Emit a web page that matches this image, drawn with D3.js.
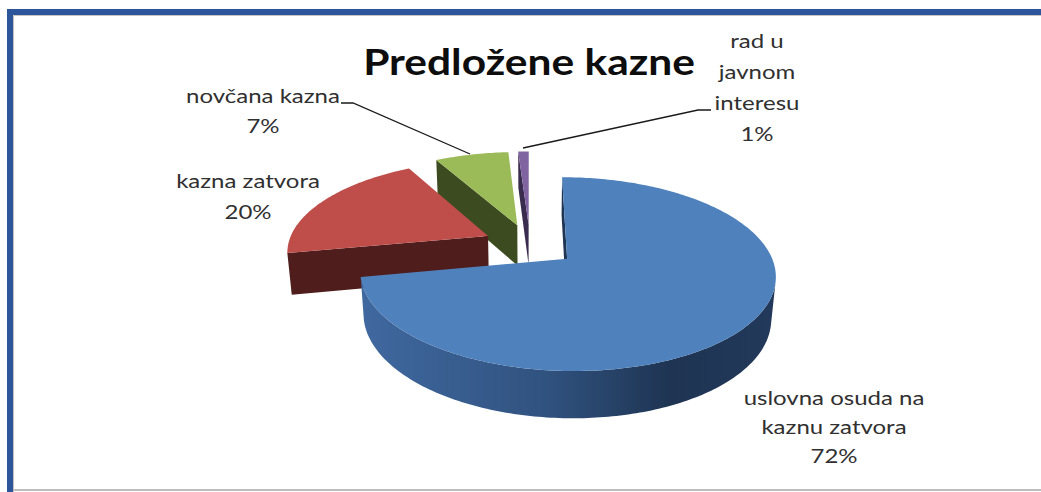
<!DOCTYPE html>
<html>
<head>
<meta charset="utf-8">
<script src="https://cdn.jsdelivr.net/npm/d3@7"></script>
<style>
  html, body { margin: 0; padding: 0; background: #fff; }
  svg { display: block; }
  .lbl { font-family: Lato, "Open Sans", sans-serif; font-size: 20px; fill: #303030; }
  .title { font-family: Lato, "Open Sans", sans-serif; font-size: 36px; font-weight: bold; fill: #0d0d0d; }
</style>
</head>
<body>
<script>
//////////////// Data ////////////////
var categories = ["uslovna osuda na kaznu zatvora", "kazna zatvora", "novčana kazna", "rad u javnom interesu"];
var values = [72, 20, 7, 1];
// label text split in lines, as in the original
var labelLines = [
  ["uslovna osuda na", "kaznu zatvora"],
  ["kazna zatvora"],
  ["novčana kazna"],
  ["rad u", "javnom", "interesu"]
];
var title = "Predložene kazne";

//////////////// Layout ////////////////
var W = 1041, H = 492;
var topColors  = ["#4F81BD", "#BF4E4B", "#9BBB59", "#8064A2"];
var sideColors = ["#1f3554", "#4e1d1c", "#3d4b20", "#3a2c4f"];
var stretch = 1.2; // the source picture is a bit wider than tall

// simple perspective camera for the 3D pie
var cam = {cx: 530, cy: 245, F: 1160, D: 5.79, s: 0.45, c: 0.893};
var R = 1, T = 0.235, explode = 0.235;

function proj(X, Y, Z) {
  var depth = cam.D - Y * cam.s + Z * cam.c;
  var up = Y * cam.c + Z * cam.s;
  return [cam.cx + cam.F * X / depth, cam.cy - cam.F * up / depth];
}

var svg = d3.select("body").append("svg")
  .attr("width", W).attr("height", H);

//////////////// Frame ////////////////
var frame = svg.append("g").attr("class", "frame");
frame.append("path")
  .attr("d", "M10," + H + " V12 H" + W)
  .attr("fill", "none").attr("stroke", "#2d559a").attr("stroke-width", 6);
frame.append("path")
  .attr("d", "M13.5," + H + " V15.5 H" + W)
  .attr("fill", "none").attr("stroke", "#c4c4c4").attr("stroke-width", 1);
frame.append("line")
  .attr("x1", 13).attr("x2", W).attr("y1", 490).attr("y2", 490)
  .attr("stroke", "#bdbdbd").attr("stroke-width", 2);

//////////////// Pie ////////////////
var pie = d3.pie().sort(null).startAngle(0).endAngle(2 * Math.PI);
var arcs = pie(values);

var defs = svg.append("defs");
var line = d3.line();
var step = Math.PI / 180;

arcs.forEach(function(a, i) {
  var mid = (a.startAngle + a.endAngle) / 2;
  a.ox = explode * Math.sin(mid);
  a.oz = explode * Math.cos(mid);
  a.i = i;
});

function rim(a, th, Y) {
  return proj(a.ox + R * Math.sin(th), Y, a.oz + R * Math.cos(th));
}
function angles(a) {
  var list = [], n = Math.max(2, Math.ceil((a.endAngle - a.startAngle) / step));
  for (var k = 0; k <= n; k++) list.push(a.startAngle + (a.endAngle - a.startAngle) * k / n);
  return list;
}
// camera position in world coords
var camX = 0, camZ = -cam.D * cam.c;

var shapes = svg.append("g").attr("class", "shapes");

// far slices first
arcs.slice().sort(function(p, q) { return q.oz - p.oz; }).forEach(function(a) {
  var g = shapes.append("g");
  var i = a.i;
  var apexTop = proj(a.ox, 0, a.oz), apexBot = proj(a.ox, -T, a.oz);

  // radial walls
  [[a.startAngle, -1], [a.endAngle, 1]].forEach(function(w) {
    var th = w[0];
    var nx = w[1] * Math.cos(th), nz = -w[1] * Math.sin(th);
    if ((camX - a.ox) * nx + (camZ - a.oz) * nz > 0) {
      g.append("path")
        .attr("d", line([apexTop, rim(a, th, 0), rim(a, th, -T), apexBot]) + "Z")
        .attr("fill", sideColors[i]);
    }
  });

  // outer wall, visible part only
  var runs = [], cur = null;
  angles(a).forEach(function(th) {
    var px = a.ox + R * Math.sin(th), pz = a.oz + R * Math.cos(th);
    var vis = (camX - px) * Math.sin(th) + (camZ - pz) * Math.cos(th) > 0;
    if (vis) { if (!cur) { cur = []; runs.push(cur); } cur.push(th); }
    else cur = null;
  });
  runs.forEach(function(run, r) {
    if (run.length < 2) return;
    var topPts = run.map(function(th) { return rim(a, th, 0); });
    var botPts = run.map(function(th) { return rim(a, th, -T); }).reverse();
    var fill = sideColors[i];
    if (i === 0) {
      var xs = topPts.map(function(p) { return p[0]; });
      var id = "wall" + i + "_" + r;
      var grad = defs.append("linearGradient").attr("id", id)
        .attr("gradientUnits", "userSpaceOnUse")
        .attr("x1", d3.min(xs)).attr("x2", d3.max(xs)).attr("y1", 0).attr("y2", 0);
      [[0, "#4069a0"], [0.45, "#30527f"], [0.75, "#1e3452"], [1, "#23395b"]].forEach(function(s) {
        grad.append("stop").attr("offset", s[0]).attr("stop-color", s[1]);
      });
      fill = "url(#" + id + ")";
    }
    g.append("path").attr("d", line(topPts.concat(botPts)) + "Z").attr("fill", fill);
  });

  // top face
  var face = [apexTop].concat(angles(a).map(function(th) { return rim(a, th, 0); }));
  g.append("path").attr("d", line(face) + "Z").attr("fill", topColors[i]);
});

//////////////// Title ////////////////
svg.append("text").attr("class", "title")
  .attr("transform", "translate(529,75) scale(" + (stretch - 0.02) + ",1)")
  .attr("text-anchor", "middle")
  .text(title);

//////////////// Labels ////////////////
var labelPos = [
  {x: 834, y: 405, lh: 29},
  {x: 248, y: 188, lh: 31},
  {x: 263, y: 103, lh: 30},
  {x: 757, y: 48,  lh: 31}
];
var leaders = [null, null,
  [[341, 103], [353, 103], [470, 154]],
  [[711, 110], [698, 110], [523, 148]]
];

var beschriftung = svg.append("g").attr("class", "labels");
arcs.forEach(function(a, i) {
  var lines = labelLines[i].concat([values[i] + "%"]);
  var t = beschriftung.append("text").attr("class", "lbl")
    .attr("text-anchor", "middle")
    .attr("transform", "translate(" + labelPos[i].x + "," + labelPos[i].y + ") scale(" + stretch + ",1)");
  lines.forEach(function(s, k) {
    t.append("tspan").attr("x", 0).attr("y", k * labelPos[i].lh).text(s);
  });
  if (leaders[i]) {
    beschriftung.append("path").attr("d", line(leaders[i]))
      .attr("fill", "none").attr("stroke", "#1a1a1a").attr("stroke-width", 1.3);
  }
});
</script>
</body>
</html>
